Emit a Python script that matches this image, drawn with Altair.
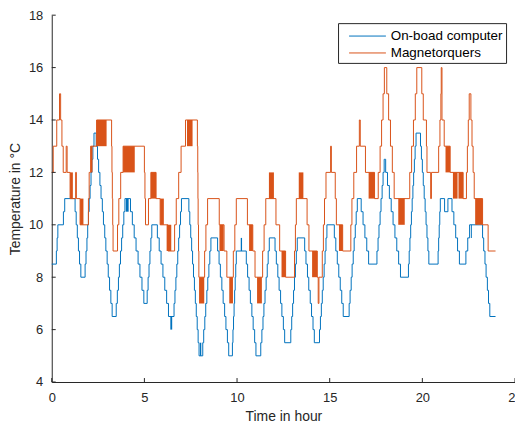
import altair as alt
import pandas as pd

# ---------------- data ----------------
series_names = ["On-boad computer", "Magnetorquers"]
series_colors = ["#0072BD", "#D95319"]

# On-board computer temperature (step signal, 0.5 degC resolution)
blue_t = [0.00, 0.25, 0.29, 0.33, 0.63, 0.70, 1.26, 1.32, 1.38, 1.44, 1.50, 1.57,
          1.80, 1.85, 1.90, 1.94, 1.98, 2.02, 2.07, 2.12, 2.17, 2.22, 2.28,
          2.40, 2.47, 2.53, 2.60, 2.66, 2.73, 2.79, 2.86, 2.92, 2.99, 3.05, 3.12, 3.19, 3.26,
          3.48, 3.54, 3.60, 3.65, 3.71, 3.77, 3.83, 3.89, 3.95,
          4.25, 4.35, 4.45, 4.55, 4.66, 4.76, 4.87, 4.97,
          5.15, 5.20, 5.25, 5.30, 5.35, 5.40,
          5.70, 5.80, 5.90, 6.00, 6.10, 6.20, 6.30,
          6.60, 6.65, 6.70, 6.75, 6.80, 6.85, 6.90, 6.95, 7.00,
          7.40, 7.45, 7.50, 7.55, 7.60, 7.65, 7.70, 7.75, 7.80, 7.85, 7.90, 7.95,
          8.15, 8.20, 8.26, 8.31, 8.37, 8.42, 8.48, 8.53, 8.59,
          8.95, 9.03, 9.10, 9.18, 9.25, 9.33, 9.40, 9.48, 9.55,
          9.75, 9.78, 9.81, 9.84, 9.87, 9.90, 9.93, 9.96,
          10.50, 10.57, 10.65, 10.72, 10.80, 10.87, 10.95, 11.02,
          11.28, 11.34, 11.40, 11.45, 11.51, 11.57, 11.63, 11.68, 11.74,
          12.05, 12.12, 12.20, 12.27, 12.35, 12.42, 12.50, 12.57,
          12.90, 12.95, 13.00, 13.05, 13.10, 13.15, 13.20, 13.25,
          13.65, 13.72, 13.80, 13.87, 13.95, 14.02, 14.10, 14.17,
          14.45, 14.50, 14.55, 14.60, 14.65, 14.70, 14.75, 14.80, 14.85,
          15.25, 15.33, 15.41, 15.49, 15.57, 15.65, 15.73,
          16.05, 16.10, 16.16, 16.21, 16.27, 16.32, 16.38, 16.43, 16.49,
          16.70, 16.80, 16.90, 17.00, 17.10,
          17.55, 17.61, 17.66, 17.72, 17.77, 17.83, 17.88, 17.94,
          18.02, 18.12, 18.22, 18.32, 18.42, 18.52, 18.62, 18.72, 18.82,
          19.25, 19.29, 19.33, 19.37, 19.41, 19.45, 19.49, 19.53, 19.57, 19.61, 19.66,
          19.90, 19.95, 20.00, 20.05, 20.10, 20.15, 20.20, 20.25, 20.30, 20.35,
          20.85, 20.88, 20.91, 20.94, 20.97, 21.20, 21.38, 21.60,
          21.70, 21.80, 21.90, 22.00,
          22.35, 22.45, 22.55,
          23.25, 23.31, 23.38, 23.44, 23.51, 23.57, 23.64, 23.95]
blue_v = [8.5, 9.0, 9.5, 10.0, 10.5, 11.0, 10.5, 10.0, 9.5, 9.0, 8.5, 8.0,
          8.5, 9.0, 9.5, 10.0, 10.5, 11.0, 11.5, 12.0, 12.5, 13.0, 13.5,
          13.0, 12.5, 12.0, 11.5, 11.0, 10.5, 10.0, 9.5, 9.0, 8.5, 8.0, 7.5, 7.0, 6.5,
          7.0, 7.5, 8.0, 8.5, 9.0, 9.5, 10.0, 10.5, 11.0,
          10.5, 10.0, 9.5, 9.0, 8.5, 8.0, 7.5, 7.0,
          7.5, 8.0, 8.5, 9.0, 9.5, 10.0,
          9.5, 9.0, 8.5, 8.0, 7.5, 7.0, 6.5,
          7.0, 7.5, 8.0, 8.5, 9.0, 9.5, 10.0, 10.5, 11.0,
          10.5, 10.0, 9.5, 9.0, 8.5, 8.0, 7.5, 7.0, 6.5, 6.0, 5.5, 5.0,
          5.5, 6.0, 6.5, 7.0, 7.5, 8.0, 8.5, 9.0, 9.5,
          9.0, 8.5, 8.0, 7.5, 7.0, 6.5, 6.0, 5.5, 5.0,
          5.5, 6.0, 6.5, 7.0, 7.5, 8.0, 8.5, 9.0,
          8.5, 8.0, 7.5, 7.0, 6.5, 6.0, 5.5, 5.0,
          5.5, 6.0, 6.5, 7.0, 7.5, 8.0, 8.5, 9.0, 9.5,
          9.0, 8.5, 8.0, 7.5, 7.0, 6.5, 6.0, 5.5,
          6.0, 6.5, 7.0, 7.5, 8.0, 8.5, 9.0, 9.5,
          9.0, 8.5, 8.0, 7.5, 7.0, 6.5, 6.0, 5.5,
          6.0, 6.5, 7.0, 7.5, 8.0, 8.5, 9.0, 9.5, 10.0,
          9.5, 9.0, 8.5, 8.0, 7.5, 7.0, 6.5,
          7.0, 7.5, 8.0, 8.5, 9.0, 9.5, 10.0, 10.5, 11.0,
          10.5, 10.0, 9.5, 9.0, 8.5,
          9.0, 9.5, 10.0, 10.5, 11.0, 11.5, 12.0, 12.5,
          12.0, 11.5, 11.0, 10.5, 10.0, 9.5, 9.0, 8.5, 8.0,
          8.5, 9.0, 9.5, 10.0, 10.5, 11.0, 11.5, 12.0, 12.5, 13.0, 13.5,
          13.0, 12.5, 12.0, 11.5, 11.0, 10.5, 10.0, 9.5, 9.0, 8.5,
          9.0, 9.5, 10.0, 10.5, 11.0, 10.5, 11.0, 10.5,
          10.0, 9.5, 9.0, 8.5,
          9.0, 9.5, 10.0,
          9.5, 9.0, 8.5, 8.0, 7.5, 7.0, 6.5, 6.5]

# short toggling bursts of the on-board computer signal
bf_start = [4.00, 6.40, 8.00, 10.20, 22.62, 22.90]
bf_end = [4.15, 6.50, 8.07, 10.27, 22.67, 22.97]
bf_low = [10.5, 6.0, 5.0, 9.0, 9.5, 10.0]
bf_high = [11.0, 6.5, 5.5, 9.5, 10.0, 10.5]

# Magnetorquers temperature (step signal, 1 degC resolution)
orange_t = [0.00, 0.08, 0.27, 0.42, 0.48, 0.55, 0.62, 0.78, 0.83, 0.99, 1.29, 1.33,
            1.53, 1.98, 2.02, 2.10, 2.42, 3.23, 3.25, 3.27, 3.29, 3.31,
            3.55, 3.62, 3.72, 3.85, 5.00, 5.03, 5.06, 5.22, 5.35, 5.63, 5.85, 6.27,
            6.63, 6.72, 6.85, 6.98, 7.22, 7.86, 7.88, 7.89, 7.90, 7.92, 7.94,
            8.25, 8.32, 8.41, 9.04, 9.30, 9.45, 9.80, 9.88, 9.96,
            10.56, 10.85, 10.97, 11.38, 11.46, 11.55, 12.10, 12.30, 12.62,
            13.10, 13.15, 13.20, 13.78, 13.88, 14.33, 14.38, 14.42,
            14.60, 14.66, 14.72, 14.80, 15.05, 15.09, 15.30, 15.36, 15.70,
            16.14, 16.20, 16.30, 16.45, 16.60, 16.65, 16.93, 17.42,
            17.62, 17.72, 17.80, 17.88, 17.95, 18.08, 18.18, 18.28, 18.38, 18.48,
            19.32, 19.42, 19.52, 19.62, 19.70, 19.97, 20.05, 20.22, 20.25, 20.45, 20.49,
            20.88, 20.95, 21.00, 21.02, 21.06, 21.18, 21.50, 22.20,
            22.38, 22.43, 22.48, 22.53, 22.62, 22.68, 22.74, 22.80, 23.25, 23.55, 23.95]
orange_v = [12, 13, 14, 15, 14, 13, 12, 13, 12, 11, 12, 11,
            10, 11, 12, 13, 14, 13, 12, 11, 10, 9,
            10, 11, 12, 13, 12, 11, 10, 11, 12, 11, 10, 9,
            10, 11, 12, 13, 14, 13, 12, 11, 10, 9, 8,
            9, 10, 11, 10, 9, 8, 9, 10, 11,
            10, 9, 8, 9, 10, 11, 10, 9, 8,
            9, 10, 11, 10, 9, 8, 7, 8,
            9, 10, 11, 12, 13, 12, 11, 10, 9,
            10, 11, 12, 13, 14, 13, 12, 11,
            12, 13, 14, 15, 16, 15, 14, 13, 12, 11,
            12, 13, 14, 15, 16, 15, 14, 13, 12, 11, 12,
            13, 14, 15, 16, 14, 13, 12, 11,
            12, 13, 14, 15, 14, 13, 12, 11, 10, 9, 9]

# rapid toggling bursts of the magnetorquer signal (drawn as filled bands)
of_start = [0.99, 1.53, 2.10, 2.42, 3.85, 5.35, 5.85, 6.20, 7.30, 7.95, 9.05, 9.58,
            10.65, 11.08, 11.72, 12.40, 13.33, 14.05, 15.50, 17.10, 18.70, 21.25,
            21.65, 21.95, 22.85]
of_end = [1.14, 1.71, 2.20, 2.96, 4.48, 5.63, 6.05, 6.45, 7.60, 8.23, 9.28, 9.78,
          10.85, 11.34, 11.99, 12.62, 13.58, 14.33, 15.70, 17.42, 19.05, 21.50,
          21.90, 22.20, 23.25]
of_low = [11, 10, 12, 13, 12, 11, 10, 9, 13, 7, 9, 7,
          9, 7, 11, 8, 11, 8, 9, 11, 10, 12,
          11, 11, 10]
of_high = [12, 11, 13, 14, 13, 12, 11, 10, 14, 8, 10, 8,
           10, 8, 12, 9, 12, 9, 10, 12, 11, 13,
           12, 12, 11]

x_ticks = [0, 5, 10, 15, 20, 25]
y_ticks = [4, 6, 8, 10, 12, 14, 16, 18]

# ---------------- tables ----------------
blue_df = pd.DataFrame({"t": blue_t, "v": blue_v, "series": series_names[0]})
orange_df = pd.DataFrame({"t": orange_t, "v": orange_v, "series": series_names[1]})
bf_df = pd.DataFrame({"s": bf_start, "e": bf_end, "lo": bf_low, "hi": bf_high})
of_df = pd.DataFrame({"s": of_start, "e": of_end, "lo": of_low, "hi": of_high})
xt_df = pd.DataFrame({"t": x_ticks})
yt_df = pd.DataFrame({"v": y_ticks})

FONT = "Liberation Sans"
AX = "#262626"

xscale = alt.Scale(domain=[0, 25], nice=False, zero=False)
yscale = alt.Scale(domain=[4, 18], nice=False, zero=False)
color_scale = alt.Scale(domain=series_names, range=series_colors)

x_axis = alt.Axis(values=x_ticks, title="Time in hour", grid=False, tickSize=0,
                  labelPadding=10, titlePadding=5, labelFontSize=13, titleFontSize=14,
                  titleFontWeight="normal", labelFont=FONT, titleFont=FONT,
                  labelColor=AX, titleColor=AX, domainColor=AX, labelFlush=False,
                  labelOverlap=False, format="d")
y_axis = alt.Axis(values=y_ticks, title="Temperature in °C", grid=False, tickSize=0,
                  labelPadding=9, titlePadding=6, labelFontSize=13, titleFontSize=14,
                  titleFontWeight="normal", labelFont=FONT, titleFont=FONT,
                  labelColor=AX, titleColor=AX, domainColor=AX, labelFlush=False,
                  labelOverlap=False, format="d")

legend = alt.Legend(title=None, orient="none", legendX=288, legendY=8,
                    symbolType="M-0.2,0H3.7", symbolSize=361, symbolStrokeWidth=1,
                    labelFontSize=13.5, labelFont=FONT, labelColor="black",
                    strokeColor=AX, fillColor="white", padding=3, rowPadding=0,
                    labelOffset=30)


def X(field):
    return alt.X(field, scale=xscale, axis=x_axis)


def Y(field):
    return alt.Y(field, scale=yscale, axis=y_axis)


blue_line = alt.Chart(blue_df).mark_line(interpolate="step-after", strokeWidth=1).encode(
    x=X("t:Q"), y=Y("v:Q"),
    color=alt.Color("series:N", scale=color_scale, legend=legend),
)
blue_burst = alt.Chart(bf_df).mark_rect(color="#0072BD").encode(
    x=X("s:Q"), x2="e:Q", y=Y("lo:Q"), y2="hi:Q",
)
orange_line = alt.Chart(orange_df).mark_line(interpolate="step-after", strokeWidth=1).encode(
    x=X("t:Q"), y=Y("v:Q"),
    color=alt.Color("series:N", scale=color_scale, legend=legend),
)
orange_burst = alt.Chart(of_df).mark_rect(color="#D95319").encode(
    x=X("s:Q"), x2="e:Q", y=Y("lo:Q"), y2="hi:Q",
)
x_tick_marks = alt.Chart(xt_df).mark_rule(color=AX, strokeWidth=1).encode(
    x=X("t:Q"), y=alt.value(369), y2=alt.value(365),
)
y_tick_marks = alt.Chart(yt_df).mark_rule(color=AX, strokeWidth=1).encode(
    y=Y("v:Q"), x=alt.value(0), x2=alt.value(4),
)

chart = alt.layer(
    blue_line, blue_burst, orange_line, orange_burst, x_tick_marks, y_tick_marks
).properties(
    width=466, height=369,
    padding={"left": 44, "top": 6, "right": 0, "bottom": 40},
    autosize=alt.AutoSizeParams(type="none"),
    background="white",
).configure_view(stroke="transparent")

chart.save("out.html", embed_options={"renderer": "svg", "actions": False})
